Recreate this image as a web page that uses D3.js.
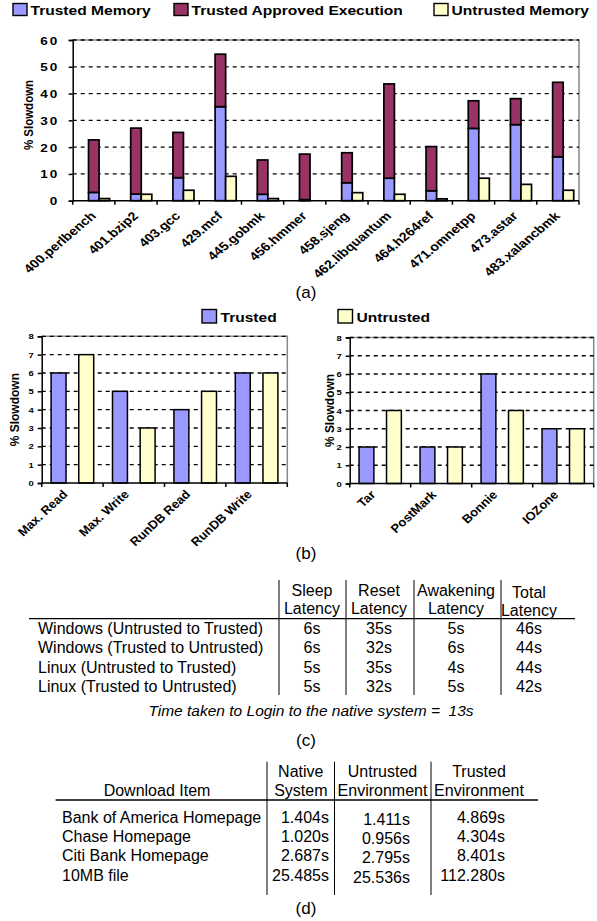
<!DOCTYPE html>
<html>
<head>
<meta charset="utf-8">
<script src="https://cdn.jsdelivr.net/npm/d3@7"></script>
<style>
body { margin: 0; background: #fff; }
svg { display: block; font-family: Arial, "Liberation Sans", sans-serif; }
</style>
</head>
<body>
<script>
// (a) SPEC benchmarks
const benchmarks = ["400.perlbench", "401.bzip2", "403.gcc", "429.mcf", "445.gobmk", "456.hmmer",
  "458.sjeng", "462.libquantum", "464.h264ref", "471.omnetpp", "473.astar", "483.xalancbmk"];
const trustedMemory = [3.1, 2.5, 8.6, 35.1, 2.4, 0.4, 6.7, 8.4, 3.7, 27.0, 28.4, 16.4];
const trustedApproved = [19.6, 24.6, 16.9, 19.6, 12.8, 17.0, 11.2, 35.2, 16.5, 10.3, 9.7, 27.8];
const untrustedMemory = [0.8, 2.4, 3.9, 9.1, 0.8, 0, 3.0, 2.4, 0.7, 8.4, 6.1, 3.9];
const ticksA = [0, 10, 20, 30, 40, 50, 60];

// (b) I/O benchmarks
const ioOps = ["Max. Read", "Max. Write", "RunDB Read", "RunDB Write"];
const ioTrusted = [6, 5, 4, 6];
const ioUntrusted = [7, 3, 5, 6];
const fsBench = ["Tar", "PostMark", "Bonnie", "IOZone"];
const fsTrusted = [2, 2, 6, 3];
const fsUntrusted = [4, 2, 4, 3];
const ticksB = [0, 1, 2, 3, 4, 5, 6, 7, 8];

// (c) switch latency
const switchRows = ["Windows (Untrusted to Trusted)", "Windows (Trusted to Untrusted)",
  "Linux (Untrusted to Trusted)", "Linux (Trusted to Untrusted)"];
const latencyHeads = [["Sleep", "Latency"], ["Reset", "Latency"], ["Awakening", "Latency"], ["Total", "Latency"]];
const sleepLatency = ["6s", "6s", "5s", "5s"];
const resetLatency = ["35s", "32s", "35s", "32s"];
const awakeLatency = ["5s", "6s", "4s", "5s"];
const totalLatency = ["46s", "44s", "44s", "42s"];

// (d) download times
const downloadItems = ["Bank of America Homepage", "Chase Homepage", "Citi Bank Homepage", "10MB file"];
const downloadHeads = [["Native", "System"], ["Untrusted", "Environment"], ["Trusted", "Environment"]];
const nativeTimes = ["1.404s", "1.020s", "2.687s", "25.485s"];
const untrustedTimes = ["1.411s", "0.956s", "2.795s", "25.536s"];
const trustedTimes = ["4.869s", "4.304s", "8.401s", "112.280s"];

const C_TM = "#9999ff", C_TAE = "#993366", C_UM = "#ffffcc";
const SX = 1.18; // the figure is stretched horizontally

const svg = d3.select("body").append("svg").attr("width", 597).attr("height", 921);

// stretched text helper
function stext(g, str, x, y, opts) {
  const o = Object.assign({size: 12, weight: "bold", anchor: "start", rot: 0, sx: SX, style: null}, opts || {});
  return g.append("text")
    .attr("transform", `translate(${x},${y}) scale(${o.sx},1) rotate(${o.rot})`)
    .attr("font-size", o.size).attr("font-weight", o.weight)
    .attr("font-style", o.style)
    .attr("text-anchor", o.anchor).text(str);
}

// ---------- (a) ----------
const gA = svg.append("g");
const x0 = d3.scaleBand().domain(benchmarks).range([72.7, 579]);
const x1 = d3.scaleBand().domain(["blank", "stack", "untrusted"]).range([0, x0.bandwidth()]).paddingOuter(0.5);
const yA = d3.scaleLinear().domain([0, 60]).range([200.7, 40]);

// plot border
gA.append("path").attr("d", `M${x0.range()[0]},${yA(60)}H${x0.range()[1]}V${yA(0)}`)
  .attr("fill", "none").attr("stroke", "#888").attr("stroke-width", 1.5);
gA.selectAll(".grid").data(ticksA.slice(1)).join("line")
  .attr("x1", x0.range()[0]).attr("x2", x0.range()[1])
  .attr("y1", d => yA(d)).attr("y2", d => yA(d))
  .attr("stroke", "#000").attr("stroke-width", 1.3).attr("stroke-dasharray", "4,4");

const stacked = d3.stack().keys([0, 1])(benchmarks.map((b, i) => [trustedMemory[i], trustedApproved[i]]));
gA.selectAll(".stk").data(stacked).join("g")
  .attr("fill", (d, i) => i === 0 ? C_TM : C_TAE)
  .selectAll("rect").data(d => d).join("rect")
  .attr("x", (d, i) => x0(benchmarks[i]) + x1("stack"))
  .attr("width", x1.bandwidth())
  .attr("y", d => yA(d[1])).attr("height", d => yA(d[0]) - yA(d[1]))
  .attr("stroke", "#000").attr("stroke-width", 1.7);
gA.selectAll(".um").data(untrustedMemory).join("rect")
  .attr("x", (d, i) => x0(benchmarks[i]) + x1("untrusted"))
  .attr("width", x1.bandwidth())
  .attr("y", d => yA(d)).attr("height", d => yA(0) - yA(d))
  .attr("fill", C_UM).attr("stroke", "#000").attr("stroke-width", d => d > 0 ? 1.7 : 0);

// axes
gA.append("g").attr("transform", `translate(${x0.range()[0]},0)`)
  .call(d3.axisLeft(yA).tickValues(ticksA).tickSize(4).tickFormat(""))
  .call(g => g.selectAll("path,line").attr("stroke", "#000").attr("stroke-width", 1.5));
ticksA.forEach(t => stext(gA, String(t), 59, yA(t) + 4.5, {size: 11.5, anchor: "end"}).attr("letter-spacing", 1.5));
gA.append("line").attr("x1", x0.range()[0]).attr("x2", x0.range()[1])
  .attr("y1", yA(0)).attr("y2", yA(0)).attr("stroke", "#000").attr("stroke-width", 1.5);
gA.selectAll(".xt").data(benchmarks.map(b => x0(b)).concat([x0.range()[1]])).join("line")
  .attr("x1", d => d).attr("x2", d => d).attr("y1", yA(0)).attr("y2", yA(0) + 4)
  .attr("stroke", "#000").attr("stroke-width", 1.5);
benchmarks.forEach(b => stext(gA, b, x0(b) + x0.bandwidth() / 2 + 3, yA(0) + 16, {size: 12, anchor: "end", rot: -45}));
stext(gA, "% Slowdown", 33, yA(32), {size: 11.5, anchor: "middle", rot: -90});

// legend (a)
const legA = [["Trusted Memory", C_TM, 13], ["Trusted Approved Execution", C_TAE, 174], ["Untrusted Memory", C_UM, 434]];
legA.forEach(([t, c, x]) => {
  gA.append("rect").attr("x", x).attr("y", 3.5).attr("width", 14).attr("height", 12)
    .attr("fill", c).attr("stroke", "#000").attr("stroke-width", 1.4);
  stext(gA, t, x + 17.5, 15, {size: 13.2});
});
stext(gA, "(a)", 306, 297.5, {size: 17, weight: "normal", anchor: "middle", sx: 1});

// ---------- (b) ----------
function ioChart(cats, tv, uv, x0r, yr, labelX) {
  const g = svg.append("g");
  const x = d3.scaleBand().domain(cats).range(x0r);
  const xi = d3.scaleBand().domain(["t", "u"]).range([0, x.bandwidth()]).paddingInner(0.46).paddingOuter(0.34);
  const y = d3.scaleLinear().domain([0, 8]).range(yr);
  g.append("path").attr("d", `M${x0r[0]},${y(8)}H${x0r[1]}V${y(0)}`)
    .attr("fill", "none").attr("stroke", "#888").attr("stroke-width", 1.5);
  g.selectAll(".grid").data(ticksB.slice(1)).join("line")
    .attr("x1", x0r[0]).attr("x2", x0r[1]).attr("y1", d => y(d)).attr("y2", d => y(d))
    .attr("stroke", "#000").attr("stroke-width", 1.3).attr("stroke-dasharray", "4,4");
  [[tv, "t", C_TM], [uv, "u", C_UM]].forEach(([vals, k, col]) => {
    g.selectAll(".b" + k).data(vals).join("rect")
      .attr("x", (d, i) => x(cats[i]) + xi(k)).attr("width", xi.bandwidth())
      .attr("y", d => y(d)).attr("height", d => y(0) - y(d))
      .attr("fill", col).attr("stroke", "#000").attr("stroke-width", 1.5);
  });
  g.append("g").attr("transform", `translate(${x0r[0]},0)`)
    .call(d3.axisLeft(y).tickValues(ticksB).tickSize(4).tickFormat(""))
    .call(s => s.selectAll("path,line").attr("stroke", "#000").attr("stroke-width", 1.5));
  ticksB.forEach(t => stext(g, String(t), x0r[0] - 8, y(t) + 3, {size: 8, anchor: "end"}));
  g.append("line").attr("x1", x0r[0]).attr("x2", x0r[1]).attr("y1", y(0)).attr("y2", y(0))
    .attr("stroke", "#000").attr("stroke-width", 1.5);
  g.selectAll(".xt").data(cats.map(c => x(c)).concat([x0r[1]])).join("line")
    .attr("x1", d => d).attr("x2", d => d).attr("y1", y(0)).attr("y2", y(0) + 4)
    .attr("stroke", "#000").attr("stroke-width", 1.5);
  cats.forEach(c => stext(g, c, x(c) + x.bandwidth() / 2 - 4, y(0) + 12, {size: 12, anchor: "end", rot: -45, sx: 1.08}));
  stext(g, "% Slowdown", labelX, y(4), {size: 12, anchor: "middle", rot: -90, sx: 1.08});
  return g;
}
ioChart(ioOps, ioTrusted, ioUntrusted, [41.7, 287.3], [483, 336.3], 19);
ioChart(fsBench, fsTrusted, fsUntrusted, [349.7, 593.7], [483.5, 337.5], 334);

const gB = svg.append("g");
[["Trusted", C_TM, 202], ["Untrusted", C_UM, 338]].forEach(([t, c, x]) => {
  gB.append("rect").attr("x", x).attr("y", 309.5).attr("width", 14.5).attr("height", 13.5)
    .attr("fill", c).attr("stroke", "#000").attr("stroke-width", 1.4);
  stext(gB, t, x + 18.5, 322, {size: 13.2});
});
stext(gB, "(b)", 306, 559, {size: 17, weight: "normal", anchor: "middle", sx: 1});

// ---------- (c) table ----------
const gC = svg.append("g").attr("font-size", 16);
const colC = [312, 379, 456, 529];
const rowC = d3.scaleLinear().domain([0, 3]).range([633.8, 692.2]);
[279, 346, 414, 501].forEach(x => gC.append("line").attr("x1", x).attr("x2", x).attr("y1", 580).attr("y2", 695)
  .attr("stroke", "#000").attr("stroke-width", 1));
gC.append("line").attr("x1", 29).attr("x2", 575).attr("y1", 618.7).attr("y2", 618.7).attr("stroke", "#000").attr("stroke-width", 1.3);
latencyHeads.forEach((h, i) => {
  const dy = i === 3 ? 2 : 0;
  gC.append("text").attr("x", colC[i]).attr("y", 595.5 + dy).attr("text-anchor", "middle").text(h[0]);
  gC.append("text").attr("x", colC[i]).attr("y", 613.5 + dy).attr("text-anchor", "middle").text(h[1]);
});
switchRows.forEach((r, i) => gC.append("text").attr("x", 38).attr("y", rowC(i)).text(r));
[sleepLatency, resetLatency, awakeLatency, totalLatency].forEach((col, j) =>
  col.forEach((v, i) => gC.append("text").attr("x", colC[j]).attr("y", rowC(i)).attr("text-anchor", "middle").text(v)));
gC.append("text").attr("x", 311).attr("y", 716).attr("text-anchor", "middle").attr("font-style", "italic")
  .attr("font-size", 15.5).style("white-space", "pre").text("Time taken to Login to the native system =  13s");
gC.append("text").attr("x", 306).attr("y", 746).attr("text-anchor", "middle").attr("font-size", 17).text("(c)");

// ---------- (d) table ----------
const gD = svg.append("g").attr("font-size", 16);
const rowD = d3.scaleLinear().domain([0, 3]).range([823.2, 880.5]);
[267, 334.5, 431].forEach(x => gD.append("line").attr("x1", x).attr("x2", x).attr("y1", 761.7).attr("y2", 895)
  .attr("stroke", "#000").attr("stroke-width", 1));
gD.append("line").attr("x1", 55.6).attr("x2", 538).attr("y1", 800).attr("y2", 800).attr("stroke", "#000").attr("stroke-width", 1.3);
const headD = [300.8, 382.5, 479];
downloadHeads.forEach((h, i) => {
  gD.append("text").attr("x", headD[i]).attr("y", 776.5).attr("text-anchor", "middle").text(h[0]);
  gD.append("text").attr("x", headD[i]).attr("y", 795.5).attr("text-anchor", "middle").text(h[1]);
});
gD.append("text").attr("x", 157).attr("y", 795.5).attr("text-anchor", "middle").text("Download Item");
downloadItems.forEach((r, i) => gD.append("text").attr("x", 62).attr("y", rowD(i)).text(r));
[[nativeTimes, 329, 0], [untrustedTimes, 410, 2], [trustedTimes, 505, 0]].forEach(([col, x, dy]) =>
  col.forEach((v, i) => gD.append("text").attr("x", x).attr("y", rowD(i) + dy).attr("text-anchor", "end").text(v)));
gD.append("text").attr("x", 306).attr("y", 914).attr("text-anchor", "middle").attr("font-size", 17).text("(d)");
</script>
</body>
</html>
